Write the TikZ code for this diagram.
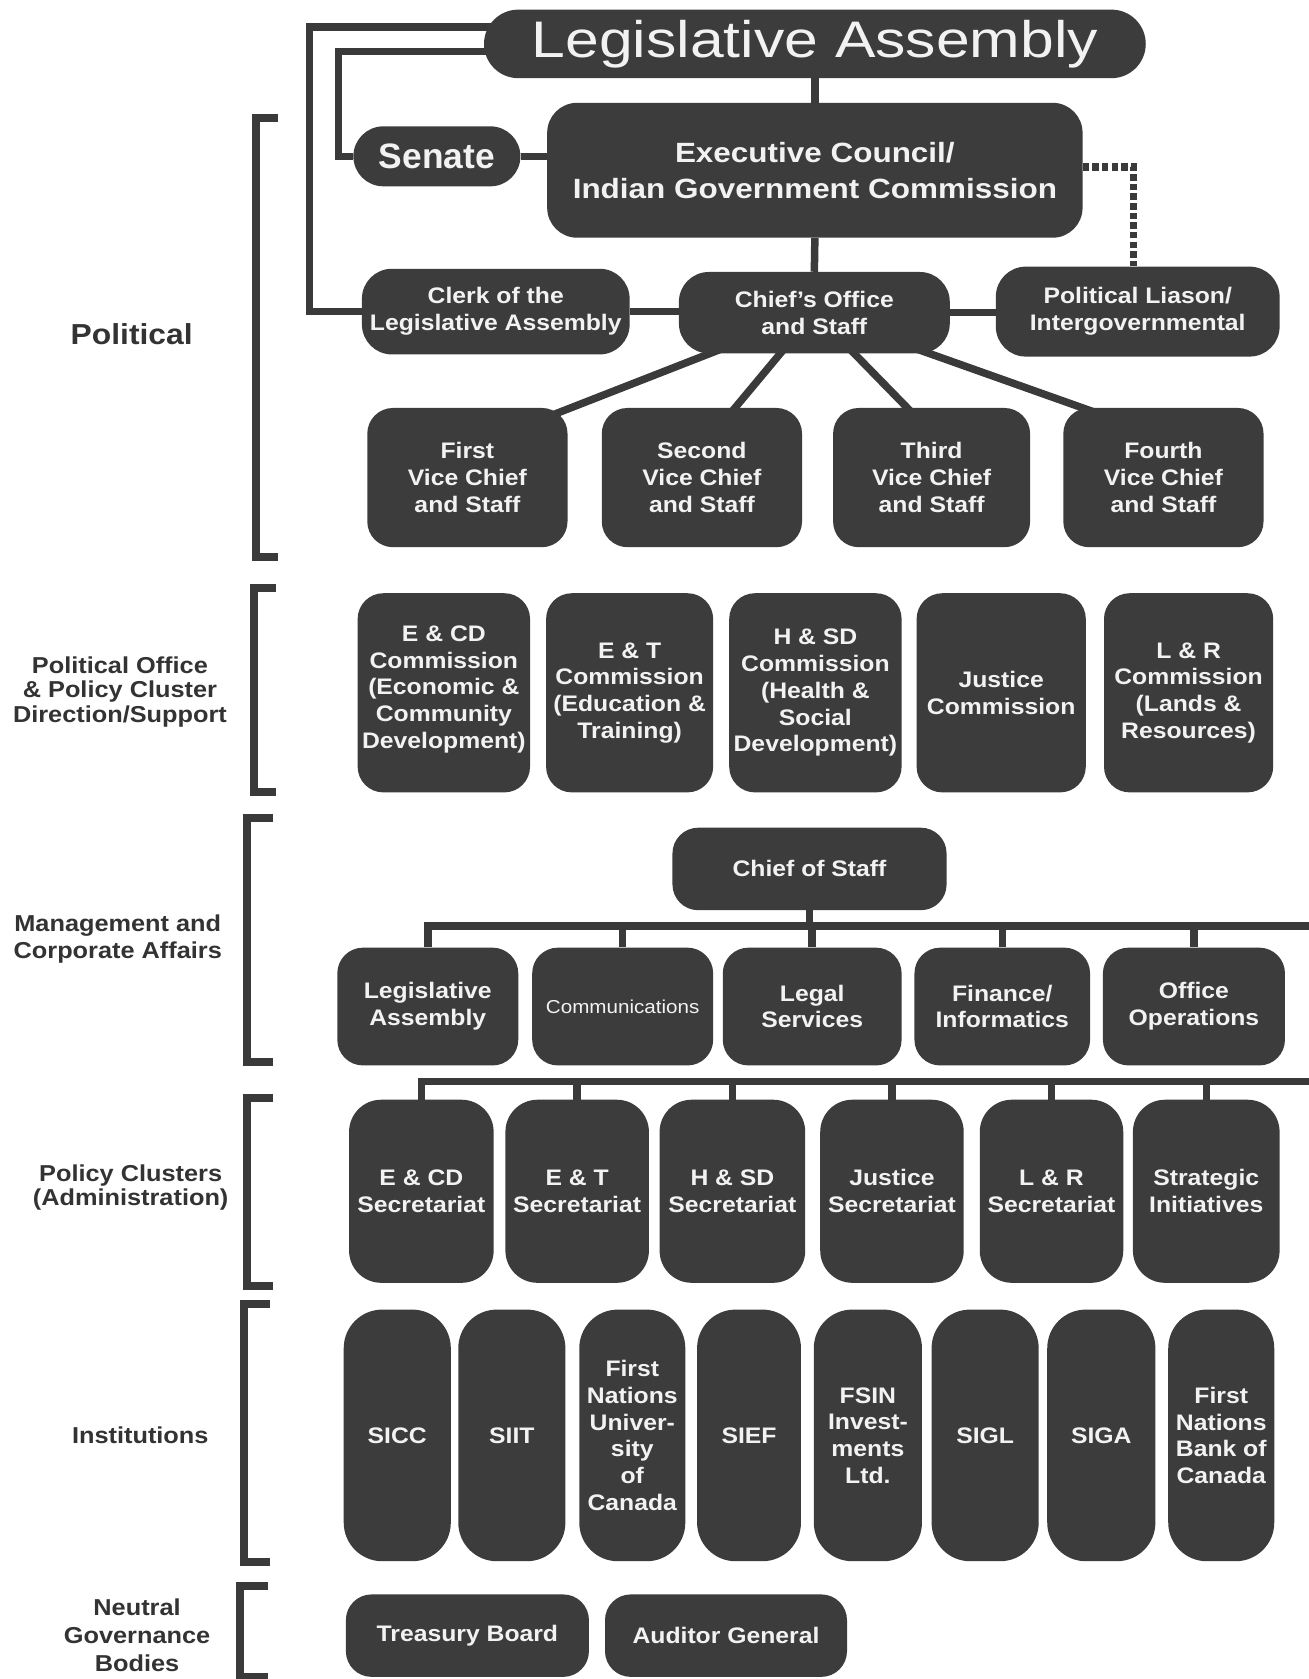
\documentclass[tikz,border=0pt]{standalone}
\usepackage{fontspec}
\setmainfont[FakeStretch=1.1]{Liberation Sans}
\newfontfamily\titlefont[FakeStretch=1.18]{Liberation Sans}
\newfontfamily\execfont[FakeStretch=1.13]{Liberation Sans}
\newfontfamily\plainfont{Liberation Sans}
\usetikzlibrary{calc}
\definecolor{boxc}{HTML}{3C3C3C}
\definecolor{linec}{HTML}{3A3A3A}
\definecolor{txtc}{HTML}{F2F2F2}
\definecolor{labc}{HTML}{333333}
\pgfdeclarelayer{bg}
\pgfdeclarelayer{paper}
\pgfsetlayers{paper,bg,main}
\newcommand{\obox}[7]{\node[#1, minimum width={#4-#3}, minimum height={#6-#5}] (#2) at ({(#3+#4)/2},{(#5+#6)/2}) {#7};}
\tikzset{
  box/.style={fill=boxc, text=txtc, rounded corners=24pt, inner sep=0pt, align=center,
    font=\fontsize{21}{25}\selectfont\bfseries},
  conn/.style={draw=linec, line width=7pt},
  brk/.style={draw=linec, line width=7.5pt, line join=miter},
  lab/.style={text=labc, align=center, inner sep=0pt, font=\fontsize{21.5}{24.5}\selectfont\bfseries},
}
\begin{document}
\begin{tikzpicture}[x=1pt,y=-1pt]
\useasboundingbox (0,0) rectangle (1222,1568);
\begin{pgfonlayer}{paper}
\fill[white] (0,0) rectangle (1222,1568);
\end{pgfonlayer}

% ---------- Political ----------
\obox{box, rounded corners=32pt, font=\titlefont\fontsize{48}{48}\selectfont}{title}{452}{1070}{9}{73}{Legislative Assembly}
\obox{box, rounded corners=28pt, font=\plainfont\fontsize{33}{33}\selectfont\bfseries}{senate}{330}{486}{118}{174}{Senate}
\obox{box, rounded corners=28pt, font=\execfont\fontsize{26}{34}\selectfont\bfseries}{exec}{511}{1011}{96}{222}{Executive Council/\\Indian Government Commission}
\obox{box, rounded corners=28pt}{clerk}{338}{588}{251}{331}{Clerk of the\\Legislative Assembly}
\obox{box, rounded corners=28pt}{chief}{634}{887}{254}{330}{Chief's Office\\and Staff}
\obox{box, rounded corners=28pt}{pl}{930}{1195}{249}{333}{Political Liason/\\Intergovernmental}

\obox{box}{vp1}{343}{530}{381}{511}{First\\Vice Chief\\and Staff}
\obox{box}{vp2}{562}{749}{381}{511}{Second\\Vice Chief\\and Staff}
\obox{box}{vp3}{778}{962}{381}{511}{Third\\Vice Chief\\and Staff}
\obox{box}{vp4}{993}{1180}{381}{511}{Fourth\\Vice Chief\\and Staff}

% ---------- Political office ----------
\obox{box}{c1}{334}{495}{554}{740}{E \& CD\\Commission\\(Economic \&\\Community\\Development)\\[-14pt]}
\obox{box}{c2}{510}{666}{554}{740}{E \& T\\Commission\\(Education \&\\Training)}
\obox{box}{c3}{681}{842}{554}{740}{H \& SD\\Commission\\(Health \&\\Social\\Development)}
\obox{box}{c4}{856}{1014}{554}{740}{Justice\\Commission}
\obox{box}{c5}{1031}{1189}{554}{740}{L \& R\\Commission\\(Lands \&\\Resources)}

% ---------- Management ----------
\obox{box, rounded corners=24pt}{cos}{628}{884}{773}{850}{Chief of Staff}
\obox{box}{m1}{315}{484}{885}{995}{Legislative\\Assembly}
\obox{box, font=\fontsize{17.5}{20}\selectfont}{m2}{497}{666}{885}{995}{Communications}
\obox{box}{m3}{675}{842}{885}{995}{Legal\\Services}
\obox{box}{m4}{854}{1018}{885}{995}{Finance/\\Informatics}
\obox{box}{m5}{1030}{1200}{885}{995}{Office\\Operations}

% ---------- Policy clusters ----------
\obox{box, rounded corners=30pt}{s1}{326}{461}{1027}{1198}{E \& CD\\Secretariat}
\obox{box, rounded corners=30pt}{s2}{472}{606}{1027}{1198}{E \& T\\Secretariat}
\obox{box, rounded corners=30pt}{s3}{616}{752}{1027}{1198}{H \& SD\\Secretariat}
\obox{box, rounded corners=30pt}{s4}{766}{900}{1027}{1198}{Justice\\Secretariat}
\obox{box, rounded corners=30pt}{s5}{915}{1049}{1027}{1198}{L \& R\\Secretariat}
\obox{box, rounded corners=30pt}{s6}{1058}{1195}{1027}{1198}{Strategic\\Initiatives}

% ---------- Institutions ----------
\obox{box, rounded corners=36pt}{i1}{321}{421}{1223}{1458}{SICC}
\obox{box, rounded corners=36pt}{i2}{428}{528}{1223}{1458}{SIIT}
\obox{box, rounded corners=36pt}{i3}{541}{640}{1223}{1458}{First\\Nations\\Univer-\\sity\\of\\Canada}
\obox{box, rounded corners=36pt}{i4}{651}{748}{1223}{1458}{SIEF}
\obox{box, rounded corners=36pt}{i5}{760}{861}{1223}{1458}{FSIN\\Invest-\\ments\\Ltd.}
\obox{box, rounded corners=36pt}{i6}{870}{970}{1223}{1458}{SIGL}
\obox{box, rounded corners=36pt}{i7}{978}{1079}{1223}{1458}{SIGA}
\obox{box, rounded corners=36pt}{i8}{1091}{1190}{1223}{1458}{First\\Nations\\Bank of\\Canada}

% ---------- Neutral ----------
\obox{box}{n1}{323}{550}{1489}{1566}{Treasury Board}
\obox{box}{n2}{565}{791}{1489}{1566}{Auditor General}

% ---------- Left labels ----------
\node[lab, font=\fontsize{27}{29}\selectfont\bfseries] (lpol) at (123,312) {Political};
\node[lab, font=\fontsize{21.5}{23}\selectfont\bfseries] (lpo) at (112,646) {Political Office\\\& Policy Cluster\\Direction/Support};
\node[lab] (lmc) at (110,877) {Management and\\Corporate Affairs};
\node[lab, font=\fontsize{21.5}{23}\selectfont\bfseries] (lpc) at (122,1109) {Policy Clusters\\(Administration)};
\node[lab] (lin) at (131,1340) {Institutions};
\node[lab, font=\fontsize{21.5}{26}\selectfont\bfseries] (lng) at (128,1527) {Neutral\\Governance\\Bodies};

% ---------- Brackets ----------
\draw[brk] (260,110) -- (239,110) -- (239,520) -- (260,520);
\draw[brk] (258,549) -- (237,549) -- (237,740) -- (258,740);
\draw[brk] (255,764) -- (231,764) -- (231,992) -- (255,992);
\draw[brk] (255,1025) -- (231,1025) -- (231,1201) -- (255,1201);
\draw[brk] (252,1218) -- (228,1218) -- (228,1459) -- (252,1459);
\draw[brk] (250,1481) -- (224,1481) -- (224,1566) -- (250,1566);

% ---------- Connectors ----------
\coordinate (cOut) at (289,291);
\coordinate (cIn) at (316,146);
\coordinate (b1L) at (396,865);
\coordinate (b1R) at (1222,865);
\coordinate (b2L) at (390,1010);
\coordinate (b2R) at (1222,1010);
\begin{pgfonlayer}{bg}
\draw[conn] (title) -- (exec);
\draw[conn, line join=miter] ([xshift=25pt,yshift=16pt]title.west) -| (cOut) -- (clerk.west);
\draw[conn, line join=miter] ([xshift=25pt,yshift=-7pt]title.west) -| (cIn) -- (senate.west);
\draw[conn] (senate.east) -- (senate.east -| exec.west);
\draw[conn] (exec.south) -- (chief.north);
\draw[conn] (clerk.east) -- (clerk.east -| chief.west);
\draw[conn] (chief.east) -- (chief.east -| pl.west);
\draw[draw=linec, line width=7pt, dash pattern=on 6pt off 3pt] ([yshift=3pt]exec.east) -| ([xshift=-4pt]pl.north);
\draw[conn] (chief.center) -- ([xshift=-20pt,yshift=-9pt]vp1.north east);
\draw[conn] (chief.center) -- ([xshift=23.5pt,yshift=-9pt]vp2.north);
\draw[conn] (chief.center) -- ([xshift=-14pt,yshift=-9pt]vp3.north);
\draw[conn] (chief.center) -- ([xshift=-50.5pt,yshift=-9pt]vp4.north);
\draw[conn] (cos.south) -- (cos.south |- b1L);
\draw[conn] (b1L) -- (b1R);
\foreach \m in {m1,m2,m3,m4,m5} {\draw[conn] (\m.north |- b1L) -- (\m.north);}
\draw[conn] (b2L) -- (b2R);
\foreach \s in {s1,s2,s3,s4,s5,s6} {\draw[conn] (\s.north |- b2L) -- (\s.north);}
\end{pgfonlayer}
\end{tikzpicture}
\end{document}
